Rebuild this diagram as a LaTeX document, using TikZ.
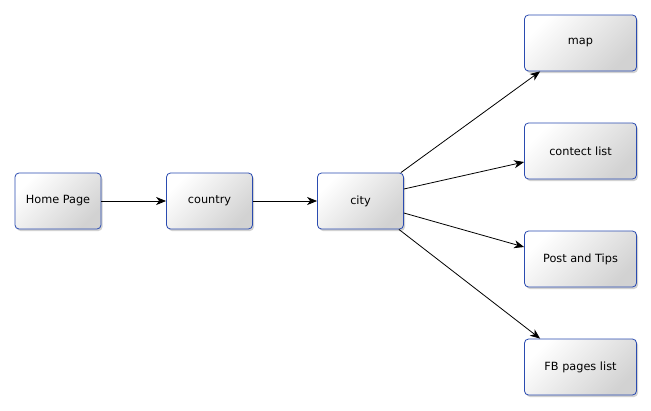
\documentclass[tikz,border=0pt]{standalone}
\usepackage{fontspec}
\setmainfont{DejaVu Sans}
\usetikzlibrary{arrows.meta,shadows,calc}
\definecolor{boxedge}{HTML}{2A4BB0}
\definecolor{boxdark}{HTML}{D2D2D2}
\begin{document}
\begin{tikzpicture}[x=1pt,y=-1pt,
  pagebox/.style={draw=boxedge, line width=0.8pt, rounded corners=4pt,
    top color=white, bottom color=boxdark, shading angle=45,
    drop shadow={shadow xshift=1.5pt, shadow yshift=-2pt, opacity=0.35, fill=gray},
    font=\fontsize{11.3}{13}\selectfont, text=black, inner sep=0pt},
  smallbox/.style={pagebox, minimum width=86pt, minimum height=56pt},
  widebox/.style={pagebox, minimum width=112pt, minimum height=56pt},
  link/.style={line width=0.8pt, -{Stealth[length=10pt,width=8pt,inset=3pt]}}]
\useasboundingbox (0,0) rectangle (651,410);
\fill[white] (0,0) rectangle (651,410);

% main path through the site
\node[smallbox] (home)    at (58,201)    {Home Page};
\node[smallbox] (country) at (209.5,201) {country};
\node[smallbox] (city)    at (360.5,201) {city};

% pages reachable from a city
\node[widebox] (map)     at (580.5,43)  {map};
\node[widebox] (contact) at (580.5,151) {contect list};
\node[widebox] (posts)   at (580.5,259) {Post and Tips};
\node[widebox] (fb)      at (580.5,367) {FB pages list};

\draw[link] (home) -- (country);
\draw[link] (country) -- (city);
\draw[link] ($(city.north east)+(-3,0)$) -- ($(map.south west)+(16,0)$);
\draw[link] ($(city.east)+(0,-12)$) -- ($(contact.west)+(0,11)$);
\draw[link] ($(city.east)+(0,12)$) -- ($(posts.west)+(0,-12)$);
\draw[link] ($(city.south east)+(-5,0)$) -- ($(fb.north west)+(16,0)$);
\end{tikzpicture}
\end{document}
